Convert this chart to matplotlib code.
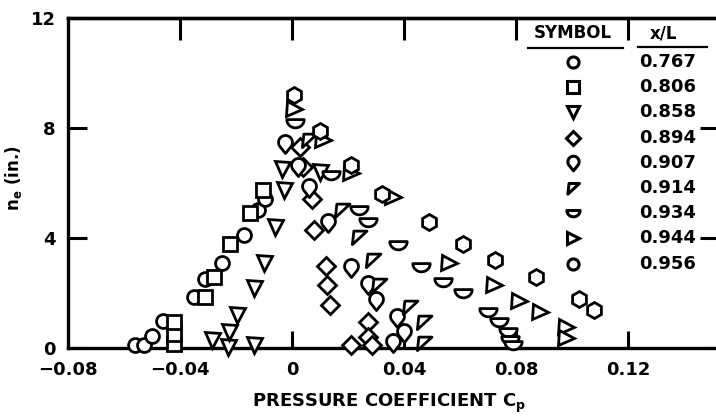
import numpy as np
import matplotlib
matplotlib.use("Agg")
import matplotlib.pyplot as plt
from matplotlib.path import Path

plt.rcParams['font.family'] = ['DejaVu Sans']
plt.rcParams['font.weight'] = 'bold'
plt.rcParams['mathtext.fontset'] = 'dejavusans'
plt.rcParams['mathtext.default'] = 'bf'

# ---------------- data ----------------
stations = ["0.767", "0.806", "0.858", "0.894", "0.907", "0.914", "0.934", "0.944", "0.956"]

cp_0767 = [-0.056, -0.053, -0.050, -0.046, -0.035, -0.031, -0.025, -0.017, -0.012, -0.0095]
ne_0767 = [0.1, 0.1, 0.45, 1.0, 1.85, 2.5, 3.1, 4.1, 5.0, 5.4]

cp_0806 = [-0.042, -0.042, -0.042, -0.031, -0.028, -0.022, -0.015, -0.0105]
ne_0806 = [0.15, 0.5, 0.95, 1.85, 2.6, 3.8, 4.9, 5.75]

cp_0858 = [-0.023, -0.0285, -0.0135, -0.0225, -0.0195, -0.0135, -0.010, -0.006, -0.003, -0.0036, 0.010]
ne_0858 = [0.05, 0.3, 0.1, 0.6, 1.2, 2.2, 3.1, 4.4, 5.75, 6.5, 6.4]

cp_0894 = [0.003, 0.004, 0.007, 0.008, 0.012, 0.0125, 0.0136, 0.027, 0.027, 0.021, 0.0286]
ne_0894 = [7.3, 6.6, 5.4, 4.3, 3.0, 2.3, 1.55, 0.95, 0.4, 0.1, 0.1]

cp_0907 = [-0.0025, 0.002, 0.006, 0.013, 0.021, 0.027, 0.030, 0.0375, 0.040, 0.036]
ne_0907 = [7.4, 6.6, 5.8, 4.55, 2.9, 2.3, 1.7, 1.1, 0.55, 0.2]

cp_0914 = [0.006, 0.018, 0.024, 0.029, 0.031, 0.042, 0.047, 0.047]
ne_0914 = [7.55, 5.0, 4.05, 3.2, 2.3, 1.5, 0.95, 0.2]

cp_0934 = [0.001, 0.014, 0.024, 0.027, 0.038, 0.046, 0.054, 0.061, 0.070, 0.074, 0.077, 0.078, 0.079]
ne_0934 = [8.2, 6.3, 5.0, 4.6, 3.75, 2.95, 2.4, 2.0, 1.3, 0.95, 0.6, 0.3, 0.1]

cp_0944 = [0.0007, 0.011, 0.021, 0.036, 0.056, 0.072, 0.081, 0.0886, 0.098, 0.098]
ne_0944 = [8.7, 7.55, 6.35, 5.5, 3.1, 2.3, 1.7, 1.3, 0.75, 0.35]

cp_0956 = [0.0007, 0.010, 0.021, 0.032, 0.049, 0.061, 0.0725, 0.087, 0.1025, 0.108]
ne_0956 = [9.2, 7.9, 6.65, 5.6, 4.6, 3.8, 3.2, 2.6, 1.8, 1.4]

x_ticks = [-0.08, -0.04, 0, 0.04, 0.08, 0.12]
x_ticklabels = ["\u22120.08", "\u22120.04", "0", "0.04", "0.08", "0.12"]
y_ticks = [0, 4, 8, 12]
y_ticklabels = ["0", "4", "8", "12"]

# ---------------- custom marker shapes ----------------
def teardrop():
    a = np.radians(np.linspace(-39, 219, 40))
    v = np.column_stack([np.cos(a), np.sin(a) + 0.3])
    v = np.vstack([v, [[0, -1.3]], v[:1]])
    return Path(v, closed=True)

def flag():
    v = np.array([[-0.75, 0.85], [1.0, 0.85], [-0.95, -0.95], [-0.75, 0.85]])
    return Path(v, closed=True)

def semicircle():
    a = np.radians(np.linspace(180, 360, 30))
    v = np.column_stack([np.cos(a), np.sin(a) * 0.95 + 0.45])
    v = np.vstack([v, v[:1]])
    return Path(v, closed=True)

series = [
    (cp_0767, ne_0767, 'o', 10.0, 'o', 8.0),
    (cp_0806, ne_0806, 's', 9.5, 's', 8.0),
    (cp_0858, ne_0858, 'v', 10.8, 'v', 8.0),
    (cp_0894, ne_0894, 'D', 9.3, 'D', 7.5),
    (cp_0907, ne_0907, teardrop(), 13.0, teardrop(), 10.5),
    (cp_0914, ne_0914, flag(), 10.8, flag(), 8.5),
    (cp_0934, ne_0934, semicircle(), 12.5, semicircle(), 9.5),
    (cp_0944, ne_0944, '>', 10.8, '>', 8.5),
    (cp_0956, ne_0956, 'h', 11.5, 'o', 8.0),
]

W, H = 716, 419
fig = plt.figure(figsize=(W / 100, H / 100), dpi=100)
ax_l, ax_r, ax_t, ax_b = 68, 719, 18, 348
ax = fig.add_axes([ax_l / W, 1 - ax_b / H, (ax_r - ax_l) / W, (ax_b - ax_t) / H])

for cps, nes, mk, ms, _, _ in series:
    ax.plot(cps, nes, linestyle='none', marker=mk, markersize=ms,
            markerfacecolor='white', markeredgecolor='black', markeredgewidth=2.0,
            clip_on=False, zorder=3)

ax.set_xlim(-0.08, -0.08 + (ax_r - ax_l) / 2800)
ax.set_ylim(0, 12)

for s in ax.spines.values():
    s.set_linewidth(2.4)

ax.set_xticks(x_ticks)
ax.set_xticklabels(x_ticklabels)
ax.set_yticks(y_ticks)
ax.set_yticklabels(y_ticklabels)
ax.tick_params(axis='both', direction='in', width=2.2, labelsize=13, colors='black')
ax.tick_params(axis='x', length=12, pad=9, top=False)
ax.tick_params(axis='y', length=14, pad=9, right=True)
for lab in ax.get_xticklabels() + ax.get_yticklabels():
    lab.set_fontweight('bold')

# longer inward ticks along the top edge
sec = ax.secondary_xaxis('top')
sec.set_xticks(x_ticks)
sec.set_xticklabels([])
sec.tick_params(direction='in', length=16, width=2.2)
sec.spines['top'].set_linewidth(2.4)

ax.set_xlabel('PRESSURE COEFFICIENT C$_{p}$', fontsize=13, fontweight='bold')
ax.xaxis.set_label_coords((389 - ax_l) / (ax_r - ax_l), (ax_b - 392) / (ax_b - ax_t))
ax.set_ylabel('n$_{e}$ (in.)', fontsize=12, fontweight='bold')
ax.yaxis.set_label_coords((24 - ax_l) / (ax_r - ax_l), (ax_b - 178) / (ax_b - ax_t))

# ---------------- symbol table (legend) ----------------
def fx(px):
    return px / W

def fy(py):
    return 1 - py / H

fig.text(fx(573), fy(33), 'SYMBOL', ha='center', va='center', fontsize=12, fontweight='bold')
fig.text(fx(663), fy(33), 'x/L', ha='center', va='center', fontsize=12, fontweight='bold')
fig.add_artist(plt.Line2D([fx(528), fx(623)], [fy(48), fy(48)], color='black', lw=1.6))
fig.add_artist(plt.Line2D([fx(638), fx(707)], [fy(47), fy(47)], color='black', lw=1.6))

row0, drow = 62, 25.2
for i, (st, s) in enumerate(zip(stations, series)):
    yy = row0 + i * drow
    fig.text(fx(639), fy(yy), st, ha='left', va='center', fontsize=13, fontweight='bold')
    fig.add_artist(plt.Line2D([fx(573)], [fy(yy)], linestyle='none', marker=s[4],
                              markersize=s[5], markerfacecolor='white',
                              markeredgecolor='black', markeredgewidth=2.2))

fig.savefig('out.png', dpi=100)
